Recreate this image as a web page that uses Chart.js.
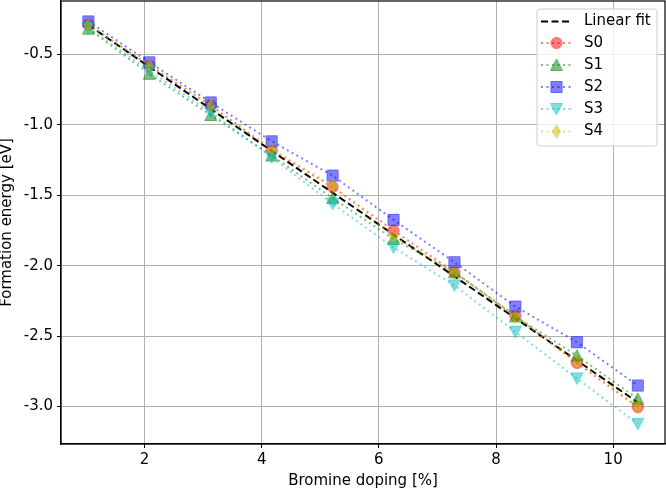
<!DOCTYPE html>
<html>
<head>
<meta charset="utf-8">
<script src="https://cdn.jsdelivr.net/npm/chart.js@4.4.1/dist/chart.umd.min.js"></script>
<style>
    body { margin: 0; background: #fff; }
    canvas { display: block; }
</style>
</head>
<body>
<canvas id="fitChart" width="666" height="491"></canvas>
<script>
// Bromine doping (%) for each structure
const dopingValues = [1.04, 2.08, 3.13, 4.17, 5.21, 6.25, 7.29, 8.33, 9.38, 10.42];

// Formation energies (eV)
const s0Values = [-0.287, -0.578, -0.862, -1.180, -1.440, -1.750, -2.046, -2.354, -2.690, -3.005];
const s1Values = [-0.317, -0.637, -0.930, -1.217, -1.520, -1.810, -2.046, -2.360, -2.638, -2.945];
const s2Values = [-0.265, -0.555, -0.840, -1.116, -1.360, -1.674, -1.975, -2.290, -2.543, -2.851];
const s3Values = [-0.310, -0.614, -0.910, -1.230, -1.560, -1.870, -2.140, -2.470, -2.800, -3.123];
const s4Values = [-0.290, -0.575, -0.860, -1.170, -1.430, -1.790, -2.050, -2.360, -2.680, -3.000];

// Linear fit endpoints
const fitX = [1.04, 10.42];
const fitY = [-0.29, -2.97];

const seriesNames = ['S0', 'S1', 'S2', 'S3', 'S4'];
const xTicks = [2, 4, 6, 8, 10];
const yTicks = [-3.0, -2.5, -2.0, -1.5, -1.0, -0.5];

const FONT = 'DejaVu Sans';
const FONT_SIZE = 15;
const seriesValues = [s0Values, s1Values, s2Values, s3Values, s4Values];
const seriesRgb = ['255,0,0', '0,128,0', '0,0,255', '0,191,191', '191,191,0'];
const seriesShapes = ['circle', 'triangle', 'square', 'triangleDown', 'thinDiamond'];

// marker sprites, used both in the plot and in the legend
function makeMarker(shape, rgb) {
    const c = document.createElement('canvas');
    c.width = 16;
    c.height = 16;
    const g = c.getContext('2d');
    g.translate(8, 8);
    g.beginPath();
    if (shape === 'circle') {
        g.arc(0, 0, 5.5, 0, Math.PI * 2);
    } else if (shape === 'triangle') {
        g.moveTo(0, -6); g.lineTo(6, 5.5); g.lineTo(-6, 5.5); g.closePath();
    } else if (shape === 'triangleDown') {
        g.moveTo(0, 6); g.lineTo(6, -5.5); g.lineTo(-6, -5.5); g.closePath();
    } else if (shape === 'square') {
        g.rect(-5.5, -5.5, 11, 11);
    } else if (shape === 'thinDiamond') {
        g.moveTo(0, -6.5); g.lineTo(4, 0); g.lineTo(0, 6.5); g.lineTo(-4, 0); g.closePath();
    }
    g.fillStyle = `rgba(${rgb},0.5)`;
    g.fill();
    g.strokeStyle = `rgba(${rgb},0.5)`;
    g.lineWidth = 1;
    g.stroke();
    return c;
}

const markers = seriesShapes.map((s, i) => makeMarker(s, seriesRgb[i]));

const datasets = [{
    label: 'Linear fit',
    data: fitX.map((x, i) => ({ x: x, y: fitY[i] })),
    showLine: true,
    borderColor: '#000',
    borderWidth: 2,
    borderDash: [7, 3.5],
    pointRadius: 0,
    order: 6
}];

seriesNames.forEach((name, i) => {
    datasets.push({
        label: name,
        data: dopingValues.map((x, j) => ({ x: x, y: seriesValues[i][j] })),
        showLine: true,
        borderColor: `rgba(${seriesRgb[i]},0.5)`,
        borderWidth: 2,
        borderDash: [2, 3.5],
        pointStyle: markers[i],
        backgroundColor: `rgba(${seriesRgb[i]},0.5)`,
        order: 5 - i
    });
});

// matplotlib-like frame and legend box
const framePlugin = {
    id: 'frame',
    afterDatasetsDraw(chart) {
        const { ctx, chartArea: a } = chart;
        ctx.save();
        ctx.strokeStyle = '#000';
        ctx.lineWidth = 1.2;
        ctx.strokeRect(a.left, a.top, a.right - a.left, a.bottom - a.top);
        ctx.restore();
    },
    afterDraw(chart) {
        const ctx = chart.ctx;
        ctx.save();
        ctx.beginPath();
        ctx.roundRect(537, 9, 120, 137, 3);
        ctx.fillStyle = 'rgba(255,255,255,0.8)';
        ctx.fill();
        ctx.strokeStyle = '#cccccc';
        ctx.lineWidth = 1;
        ctx.stroke();

        const rows = [21.5, 43, 65, 87, 109, 131.5];
        ctx.font = `${FONT_SIZE}px "${FONT}"`;
        ctx.textBaseline = 'middle';
        ctx.fillStyle = '#000';
        ctx.fillText('Linear fit', 584, rows[0]);
        ctx.beginPath();
        ctx.setLineDash([7, 3.5]);
        ctx.strokeStyle = '#000';
        ctx.lineWidth = 2;
        ctx.moveTo(541, rows[0]);
        ctx.lineTo(572, rows[0]);
        ctx.stroke();

        seriesNames.forEach((name, i) => {
            const y = rows[i + 1];
            ctx.beginPath();
            ctx.setLineDash([2, 3.5]);
            ctx.strokeStyle = `rgba(${seriesRgb[i]},0.5)`;
            ctx.moveTo(541, y);
            ctx.lineTo(572, y);
            ctx.stroke();
            ctx.drawImage(markers[i], 556.5 - 8, y - 8);
            ctx.fillStyle = '#000';
            ctx.fillText(name, 584, y);
        });
        ctx.restore();
    }
};

new Chart(document.getElementById('fitChart'), {
    type: 'scatter',
    data: { datasets: datasets },
    options: {
        responsive: false,
        animation: false,
        devicePixelRatio: 1,
        layout: { autoPadding: false, padding: { left: 0, right: 1, top: 1, bottom: 0 } },
        plugins: {
            legend: { display: false },
            tooltip: { enabled: false }
        },
        scales: {
            x: {
                type: 'linear',
                min: 0.573,
                max: 10.885,
                afterFit(scale) {
                    scale.height = 47;
                    scale.paddingLeft = 0;
                    scale.paddingRight = 0;
                },
                afterBuildTicks(scale) { scale.ticks = xTicks.map(v => ({ value: v })); },
                grid: { color: '#b0b0b0', lineWidth: 1, tickColor: '#000', tickLength: 4 },
                border: { color: '#000', width: 1.2 },
                ticks: {
                    font: { family: FONT, size: FONT_SIZE },
                    color: '#000',
                    padding: 3,
                    maxRotation: 0,
                    callback: v => String(v)
                },
                title: {
                    display: true,
                    text: 'Bromine doping [%]',
                    font: { family: FONT, size: FONT_SIZE, lineHeight: 1 },
                    color: '#000',
                    padding: { top: 0, bottom: 2 }
                }
            },
            y: {
                type: 'linear',
                min: -3.266,
                max: -0.12,
                afterFit(scale) {
                    scale.width = 61;
                    scale.paddingTop = 0;
                    scale.paddingBottom = 0;
                },
                afterBuildTicks(scale) { scale.ticks = yTicks.map(v => ({ value: v })); },
                grid: { color: '#b0b0b0', lineWidth: 1, tickColor: '#000', tickLength: 4 },
                border: { color: '#000', width: 1.2 },
                ticks: {
                    font: { family: FONT, size: FONT_SIZE },
                    color: '#000',
                    padding: 4,
                    callback: v => v.toFixed(1)
                },
                title: {
                    display: true,
                    text: 'Formation energy [eV]',
                    font: { family: FONT, size: FONT_SIZE, lineHeight: 1 },
                    color: '#000',
                    padding: { top: 0, bottom: 0 }
                }
            }
        }
    },
    plugins: [framePlugin]
});
</script>
</body>
</html>
